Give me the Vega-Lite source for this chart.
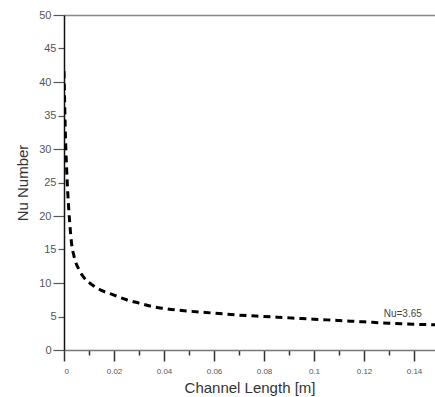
{
  "$schema": "https://vega.github.io/schema/vega-lite/v6.json",
  "width": 371,
  "height": 335,
  "autosize": {"type": "none"},
  "padding": {"left": 64, "top": 15, "right": 0, "bottom": 47},
  "background": "white",
  "config": {
    "view": {"stroke": null},
    "font": "Liberation Sans",
    "axis": {"labelFont": "Liberation Sans", "titleFont": "Liberation Sans", "grid": false}
  },
  "datasets": {
    "curve": [
      {"x": 0, "nu": 41.6},
      {"x": 0.0002, "nu": 38},
      {"x": 0.0005, "nu": 33},
      {"x": 0.001, "nu": 27.5},
      {"x": 0.0015, "nu": 23.5},
      {"x": 0.002, "nu": 20.5},
      {"x": 0.003, "nu": 16},
      {"x": 0.004, "nu": 14},
      {"x": 0.006, "nu": 12},
      {"x": 0.008, "nu": 10.8},
      {"x": 0.011, "nu": 9.8},
      {"x": 0.015, "nu": 8.9},
      {"x": 0.02, "nu": 8.2},
      {"x": 0.025, "nu": 7.5},
      {"x": 0.03, "nu": 7.0},
      {"x": 0.035, "nu": 6.5},
      {"x": 0.04, "nu": 6.2},
      {"x": 0.05, "nu": 5.8},
      {"x": 0.06, "nu": 5.5},
      {"x": 0.07, "nu": 5.2},
      {"x": 0.08, "nu": 5.0},
      {"x": 0.09, "nu": 4.8},
      {"x": 0.1, "nu": 4.6},
      {"x": 0.11, "nu": 4.4},
      {"x": 0.12, "nu": 4.2},
      {"x": 0.13, "nu": 4.0},
      {"x": 0.14, "nu": 3.85},
      {"x": 0.1484, "nu": 3.75}
    ],
    "label": [{"x": 0.1355, "nu": 5.3, "text": "Nu=3.65"}]
  },
  "encoding": {
    "y": {
      "field": "nu", "type": "quantitative",
      "scale": {"domain": [0, 50], "nice": false},
      "axis": {
        "title": "Nu Number",
        "titleFontSize": 15, "titleFontWeight": "normal", "titleColor": "#333", "titlePadding": 8,
        "values": [0, 5, 10, 15, 20, 25, 30, 35, 40, 45, 50],
        "labelOverlap": false,
        "labelFontSize": 11, "labelColor": "#555", "labelPadding": 2,
        "tickSize": {"condition": {"test": "round(datum.value) % 10 != 0", "value": 6}, "value": 11},
        "tickColor": "#555", "tickWidth": 1.2,
        "domainColor": "#111", "domainWidth": 1.5
      }
    }
  },
  "layer": [
    {
      "data": {"name": "curve"},
      "mark": {"type": "line", "color": "black", "strokeWidth": 3, "strokeDash": [7, 5], "interpolate": "monotone", "clip": true},
      "encoding": {
        "x": {
          "field": "x", "type": "quantitative",
          "scale": {"domain": [0, 0.1484], "nice": false, "zero": false},
          "axis": {
            "orient": "bottom",
            "title": "Channel Length [m]",
            "titleFontSize": 15, "titleFontWeight": "normal", "titleColor": "#333", "titlePadding": 5,
            "values": [0, 0.01, 0.02, 0.03, 0.04, 0.05, 0.06, 0.07, 0.08, 0.09, 0.1, 0.11, 0.12, 0.13, 0.14],
            "format": ".2~f",
            "labelExpr": "round(datum.value*100) % 2 == 0 ? datum.label : ''",
            "labelFontSize": 8, "labelColor": "#555", "labelPadding": 6,
            "tickSize": {"condition": {"test": "round(datum.value*100) % 2 == 1", "value": 5}, "value": 11},
            "tickColor": "#333", "tickWidth": 1.5,
            "domainColor": "#777", "domainWidth": 1.5
          }
        }
      }
    },
    {
      "data": {"name": "label"},
      "mark": {"type": "text", "fontSize": 10, "color": "#444", "align": "center", "baseline": "middle"},
      "encoding": {
        "x": {"field": "x", "type": "quantitative", "axis": null},
        "text": {"field": "text"}
      }
    },
    {
      "data": {"name": "label"},
      "mark": {"type": "point", "opacity": 0},
      "encoding": {
        "x": {"field": "x", "type": "quantitative", "axis": {"orient": "top", "title": null, "labels": false, "ticks": false, "domainColor": "#888", "domainWidth": 1.5}}
      }
    }
  ],
  "resolve": {"axis": {"x": "independent"}}
}
